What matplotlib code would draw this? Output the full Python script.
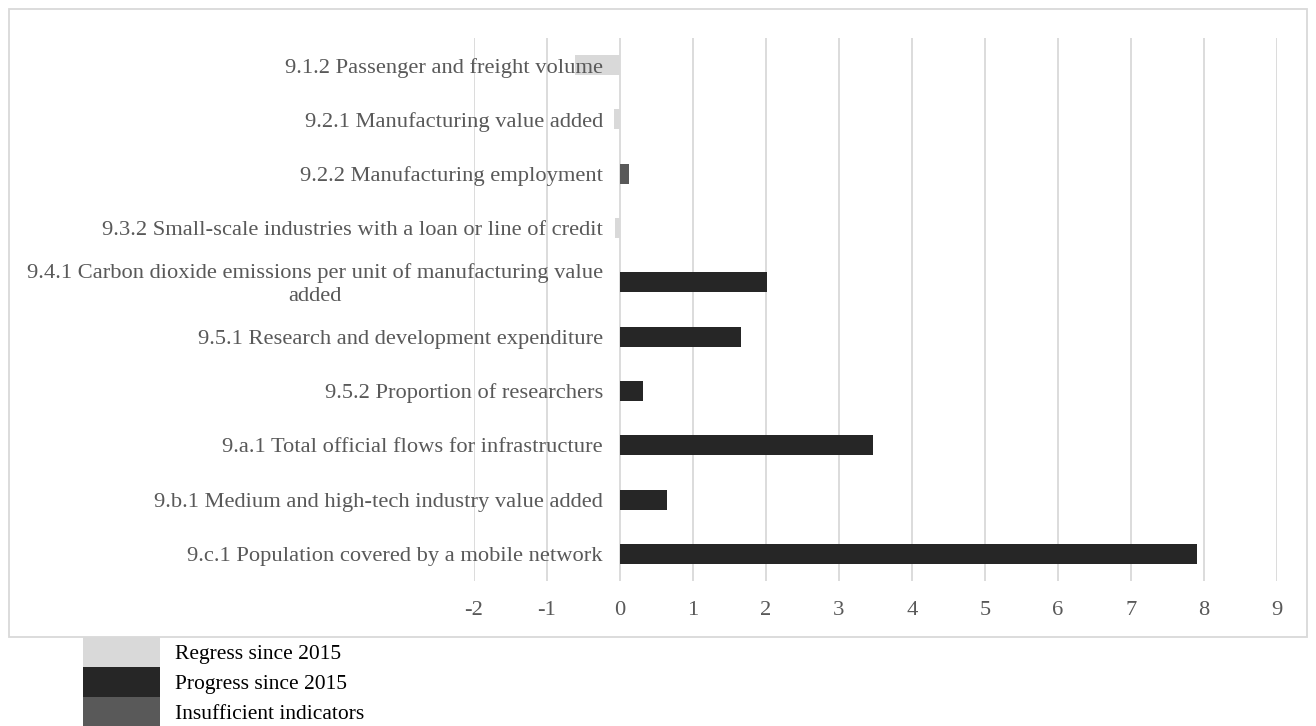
import matplotlib
matplotlib.use("Agg")
import matplotlib.pyplot as plt
from matplotlib.patches import Patch, Rectangle
from matplotlib.transforms import offset_copy

plt.rcParams['font.family'] = ['Liberation Serif', 'DejaVu Serif']

# data (top to bottom)
categories = [
    "9.1.2 Passenger and freight volume",
    "9.2.1 Manufacturing value added",
    "9.2.2 Manufacturing employment",
    "9.3.2 Small-scale industries with a loan or line of credit",
    "9.4.1 Carbon dioxide emissions per unit of manufacturing value\nadded",
    "9.5.1 Research and development expenditure",
    "9.5.2 Proportion of researchers",
    "9.a.1 Total official flows for infrastructure",
    "9.b.1 Medium and high-tech industry value added",
    "9.c.1 Population covered by a mobile network",
]
values = [-0.62, -0.08, 0.13, -0.07, 2.02, 1.66, 0.31, 3.47, 0.65, 7.91]
status = ["regress", "regress", "insufficient", "regress", "progress",
          "progress", "progress", "progress", "progress", "progress"]
legend_labels = ["Regress since 2015", "Progress since 2015", "Insufficient indicators"]
xticks = list(range(-2, 10))

colors = {"regress": "#d9d9d9", "progress": "#262626", "insufficient": "#595959"}
txt = "#595959"

W, H = 1316, 726
fig = plt.figure(figsize=(W / 100, H / 100), dpi=100)
ax = fig.add_axes([474 / W, 1 - 581 / H, (1277 - 474) / W, (581 - 38) / H])

ypos = list(range(len(categories)))
ax.barh(ypos, values, height=0.37, color=[colors[s] for s in status], zorder=2)

ax.set_xlim(-2, 9)
ax.set_ylim(len(categories) - 0.5, -0.5)
ax.set_xticks(xticks)
ax.set_xticklabels([str(t) for t in xticks])
ax.set_yticks([])

# category labels sit just left of the zero line, on top of bars/grid
for y, lab in zip(ypos, categories):
    two = "\n" in lab
    tr = offset_copy(ax.transData, fig=fig, x=-17, y=-2 if two else 0, units="dots")
    ax.text(0, y, lab, transform=tr, ha="right",
            va="center" if two else "center_baseline",
            multialignment="center", linespacing=1.3,
            fontsize=16.2, color=txt, zorder=4)

ax.set_axisbelow(True)
ax.grid(axis="x", color="#d9d9d9", lw=1.3)
for s in ax.spines.values():
    s.set_visible(False)
ax.tick_params(axis="both", length=0, labelsize=16.2, labelcolor=txt)
ax.tick_params(axis="x", pad=14.5)

# outer chart border
fig.add_artist(Rectangle((9 / W, 1 - 637 / H), (1307 - 9) / W, (637 - 9) / H,
                         transform=fig.transFigure, fill=False,
                         edgecolor="#d9d9d9", lw=1.3))

handles = [Patch(facecolor=colors[k], edgecolor="none")
           for k in ["regress", "progress", "insufficient"]]
fig.legend(handles, legend_labels, loc="upper left",
           bbox_to_anchor=(83 / W, 1 - 637 / H), frameon=False,
           fontsize=15.5, handlelength=3.58, handleheight=1.77,
           labelspacing=0, borderpad=0, borderaxespad=0, handletextpad=0.7)

fig.savefig("out.png", dpi=100)
